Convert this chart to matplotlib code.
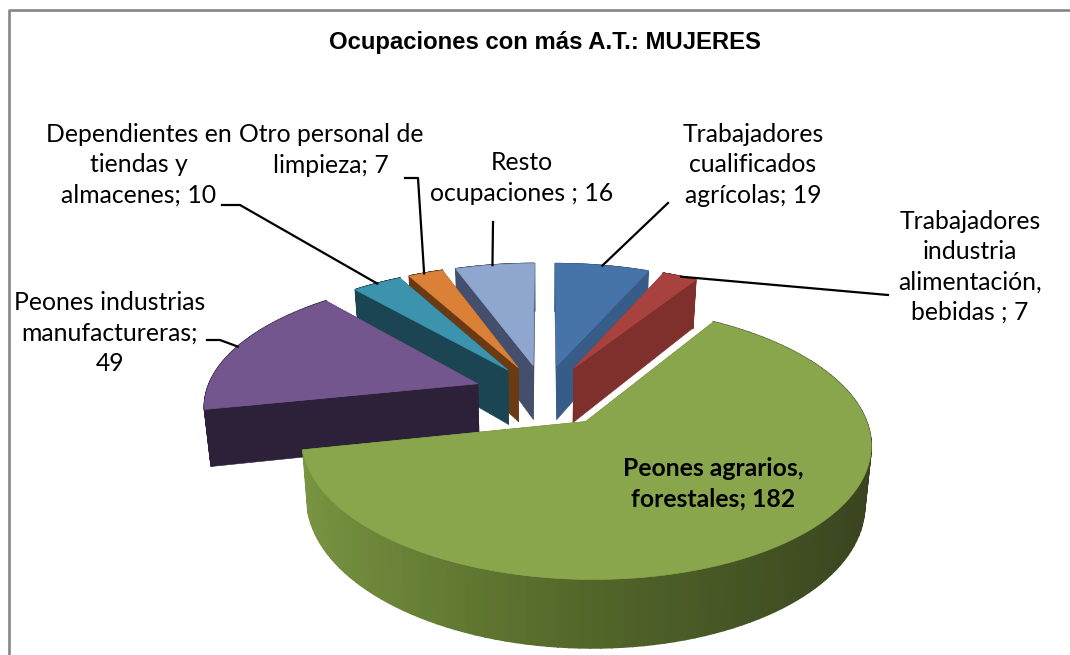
import numpy as np
from matplotlib import pyplot as plt
from matplotlib.colors import to_rgb
from matplotlib.patches import Polygon

# datos
etiquetas = ["Trabajadores\ncualificados\nagrícolas; 19",
             "Trabajadores\nindustria\nalimentación,\nbebidas ; 7",
             "Peones agrarios,\nforestales; 182",
             "Peones industrias\nmanufactureras;\n49",
             "Dependientes en\ntiendas y\nalmacenes; 10",
             "Otro personal de\nlimpieza; 7",
             "Resto\nocupaciones ; 16"]
valores = [19, 7, 182, 49, 10, 7, 16]
color_top = ["#4674aa", "#a8423f", "#8aa64c", "#74568f", "#3b93ae", "#da8137", "#8fa6cf"]
color_wall = ["#375c88", "#7f2f2c", "#55692f", "#2d2039", "#1c4553", "#6a3a12", "#434f6c"]
explosion = [0.24, 0.24, 0.26, 0.26, 0.24, 0.24, 0.24]
orden = [6, 0, 5, 1, 4, 3, 2]  # de atras hacia delante

# posicion de cada etiqueta
label_x = [753, 970, 713, 110, 139, 331, 522]
label_y = [165, 267, 484, 333, 165, 150, 178]
leader_frac = [0.5, 0.55, None, 0.5, 0.5, 0.45, 0.47]
leader_pts = [[(668, 203)], [(888, 295)], None, [(220, 340), (207, 340)],
              [(240, 205), (222, 205)], [(418, 178), (405, 178)], [(493, 222)]]

# geometria de la tarta en 3D
cx, cy = 544, 394
R, Ry = 272, 125
p = 0.15
depth = 56
shrink = 0.98
green_stops = ["#7a9642", "#526629", "#38421f"]


def proj(u, v, z=0):
    s = 1 / (1 - p * v)
    x = R * u * s
    y = cy + Ry * v * s + z * depth * s
    if z:
        x = x * shrink
    return np.column_stack([cx + x, y])


fig = plt.figure(figsize=(10.7, 6.55), dpi=100)
ax = fig.add_axes([0, 0, 1, 1])
ax.set_xlim(0, 1070)
ax.set_ylim(655, 0)
ax.axis("off")

# marco gris
ax.plot([8.5, 8.5, 1070], [655, 10, 10], color="#868686", lw=1.9)

ang = np.cumsum([0] + valores) / sum(valores) * 2 * np.pi
zorder = 2
centros = {}
for i in orden:
    a = np.linspace(ang[i], ang[i + 1], 120)
    mid = (ang[i] + ang[i + 1]) / 2
    ou, ov = explosion[i] * np.sin(mid), -explosion[i] * np.cos(mid)
    u = ou + np.sin(a)
    v = ov - np.cos(a)
    centros[i] = (ou, ov)

    top = np.vstack([proj(np.array([ou]), np.array([ov])), proj(u, v)])
    bot = np.vstack([proj(np.array([ou]), np.array([ov]), 1), proj(u, v, 1)])

    # paredes rectas
    for k in (1, len(top) - 1):
        pared = np.vstack([top[0], top[k], bot[k], bot[0]])
        ax.add_patch(Polygon(pared, fc=color_wall[i], ec=color_wall[i], lw=0.4, zorder=zorder))
    # pared exterior, en tiras para el degradado
    for k in range(1, len(top) - 1):
        if i == 2:
            t = np.clip((1 + np.sin(a[k - 1])) / 2, 0, 1)
            c0, c1, c2 = [np.array(to_rgb(c)) for c in green_stops]
            col = c0 + (c1 - c0) * t * 2 if t < 0.5 else c1 + (c2 - c1) * (t - 0.5) * 2
        else:
            col = color_wall[i]
        tira = np.vstack([top[k], top[k + 1], bot[k + 1], bot[k]])
        ax.add_patch(Polygon(tira, fc=col, ec=col, lw=1.2, zorder=zorder + 0.1))
    ax.add_patch(Polygon(top, fc=color_top[i], ec=color_top[i], lw=0.5, zorder=zorder + 0.2))
    zorder += 1

# lineas guia
for i in range(len(valores)):
    if leader_pts[i] is None:
        continue
    a0 = ang[i] + (ang[i + 1] - ang[i]) * leader_frac[i]
    ou, ov = centros[i]
    inicio = proj(np.array([ou + np.sin(a0)]), np.array([ov - np.cos(a0)]))[0]
    pts = [tuple(inicio)] + leader_pts[i]
    ax.plot([q[0] for q in pts], [q[1] for q in pts], color="black", lw=1.6, zorder=20)

# textos
for i, txt in enumerate(etiquetas):
    ax.text(label_x[i], label_y[i], txt, ha="center", va="center", family="Lato",
            fontsize=17.8, linespacing=1.38, zorder=21,
            fontweight="bold" if i == 2 else "normal")

ax.text(545, 43, "Ocupaciones con más A.T.: MUJERES", ha="center", va="center",
        family="Liberation Sans", fontweight="bold", fontsize=17.2)

plt.savefig("out.png", dpi=100)
